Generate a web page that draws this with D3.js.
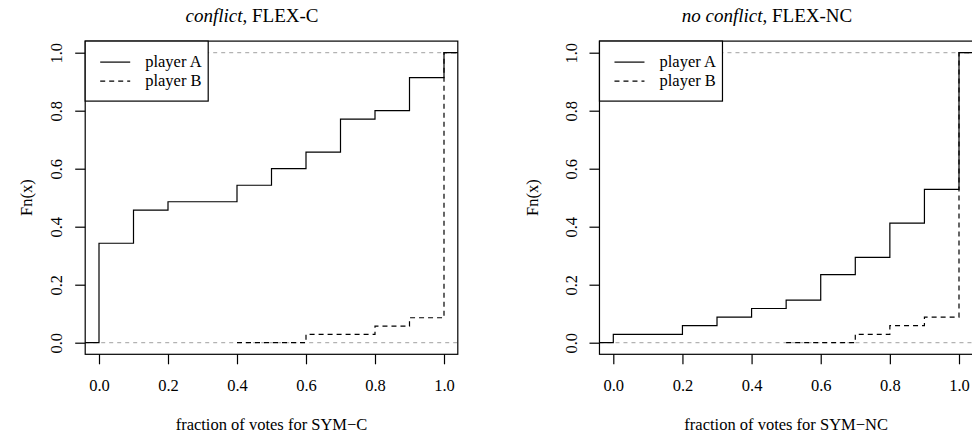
<!DOCTYPE html>
<html>
<head>
<meta charset="utf-8">
<script src="https://cdn.jsdelivr.net/npm/d3@7"></script>
<style>
  html, body { margin: 0; padding: 0; background: #fff; }
  svg { display: block; }
  text { font-family: "Liberation Serif", "DejaVu Serif", serif; fill: #000; }
</style>
</head>
<body>
<svg id="chart" width="972" height="436"></svg>
<script>
// ---- data ----
const titlesItalic = ["conflict", "no conflict"];
const titlesPlain = [", FLEX-C", ", FLEX-NC"];
const xLabels = ["fraction of votes for SYM\u2212C", "fraction of votes for SYM\u2212NC"];
const yLabel = "Fn(x)";
const seriesNames = ["player A", "player B"];
const tickValues = [0, 0.2, 0.4, 0.6, 0.8, 1.0];

// conflict panel
const leftAx = [0, 0.1, 0.2, 0.4, 0.5, 0.6, 0.7, 0.8, 0.9, 1.0];
const leftAy = [0.343, 0.457, 0.486, 0.543, 0.600, 0.657, 0.771, 0.800, 0.914, 1.000];
const leftBx = [0.6, 0.8, 0.9, 1.0];
const leftBy = [0.029, 0.057, 0.086, 1.000];
const leftBStart = 0.4;

// no conflict panel
const rightAx = [0, 0.2, 0.3, 0.4, 0.5, 0.6, 0.7, 0.8, 0.9, 1.0];
const rightAy = [0.029, 0.059, 0.088, 0.118, 0.147, 0.235, 0.294, 0.412, 0.529, 1.000];
const rightBx = [0.7, 0.8, 0.9, 1.0];
const rightBy = [0.029, 0.059, 0.088, 1.000];
const rightBStart = 0.5;

// ---- layout ----
const svg = d3.select("#chart");
const FS = 16.5;
const panels = [
  { x0: 99, x1: 444, titleX: 252, aX: leftAx, aY: leftAy, bX: leftBx, bY: leftBy, bStart: leftBStart,
    ylabX: 32, ytickX: 62 },
  { x0: 613.3, x1: 959, titleX: 767, aX: rightAx, aY: rightAy, bX: rightBx, bY: rightBy, bStart: rightBStart,
    ylabX: 538, ytickX: 577 }
];
const yScale = d3.scaleLinear().domain([0, 1]).range([342.7, 52.7]);
const domain = [-0.04, 1.04];

panels.forEach((p, i) => {
  const x = d3.scaleLinear().domain([0, 1]).range([p.x0, p.x1]);
  const y = yScale;
  const g = svg.append("g");
  const bl = x(domain[0]), br = x(domain[1]), bt = y(domain[1]), bb = y(domain[0]);

  // gray reference lines at 0 and 1
  [0, 1].forEach(v => {
    g.append("line").attr("x1", bl).attr("x2", br).attr("y1", y(v)).attr("y2", y(v))
      .attr("stroke", "#b3b3b3").attr("stroke-width", 1.2).attr("stroke-dasharray", "4,4");
  });

  const line = d3.line().x(d => x(d[0])).y(d => y(d[1])).curve(d3.curveStepAfter);

  // player B (dashed)
  const bPts = [[p.bStart, 0]].concat(p.bX.map((v, k) => [v, p.bY[k]]));
  bPts.push([domain[1], p.bY[p.bY.length - 1]]);
  g.append("path").attr("d", line(bPts)).attr("fill", "none").attr("stroke", "#000")
    .attr("stroke-width", 1.2).attr("stroke-dasharray", "5,4");

  // player A (solid)
  const aPts = [[domain[0], 0]].concat(p.aX.map((v, k) => [v, p.aY[k]]));
  aPts.push([domain[1], p.aY[p.aY.length - 1]]);
  g.append("path").attr("d", line(aPts)).attr("fill", "none").attr("stroke", "#000")
    .attr("stroke-width", 1.2);

  // box
  g.append("rect").attr("x", bl).attr("y", bt).attr("width", br - bl).attr("height", bb - bt)
    .attr("fill", "none").attr("stroke", "#000").attr("stroke-width", 1.2);

  // x axis
  const xa = g.append("g").attr("transform", `translate(0,${bb})`)
    .call(d3.axisBottom(x).tickValues(tickValues).tickFormat(d3.format(".1f")).tickSize(10).tickSizeOuter(0));
  xa.select(".domain").remove();
  xa.selectAll("line").attr("stroke", "#000").attr("stroke-width", 1.2);
  xa.selectAll("text").attr("font-size", FS).attr("font-family", "Liberation Serif")
    .attr("y", 37).attr("dy", null);

  // y axis
  const ya = g.append("g").attr("transform", `translate(${bl},0)`)
    .call(d3.axisLeft(y).tickValues(tickValues).tickFormat(d3.format(".1f")).tickSize(10).tickSizeOuter(0));
  ya.select(".domain").remove();
  ya.selectAll("line").attr("stroke", "#000").attr("stroke-width", 1.2);
  ya.selectAll("text").attr("font-size", FS).attr("font-family", "Liberation Serif")
    .attr("x", null).attr("dy", null)
    .attr("text-anchor", "middle")
    .attr("transform", `translate(${p.ytickX - bl},0) rotate(-90)`);

  // y label
  g.append("text").attr("transform", `translate(${p.ylabX},${(bt + bb) / 2}) rotate(-90)`)
    .attr("text-anchor", "middle").attr("font-size", FS).text(yLabel);

  // x label
  g.append("text").attr("x", (bl + br) / 2).attr("y", 430).attr("text-anchor", "middle")
    .attr("font-size", FS).text(xLabels[i]);

  // title
  const t = g.append("text").attr("x", p.titleX).attr("y", 22).attr("text-anchor", "middle")
    .attr("font-size", 19);
  t.append("tspan").attr("font-style", "italic").text(titlesItalic[i]);
  t.append("tspan").text(titlesPlain[i]);

  // legend
  const lg = g.append("g").attr("transform", `translate(${bl},${bt})`);
  lg.append("rect").attr("width", 123).attr("height", 60).attr("fill", "#fff")
    .attr("stroke", "#000").attr("stroke-width", 1.2);
  seriesNames.forEach((s, k) => {
    const ly = 21 + k * 19;
    lg.append("line").attr("x1", 15).attr("x2", 45).attr("y1", ly).attr("y2", ly)
      .attr("stroke", "#000").attr("stroke-width", 1.2)
      .attr("stroke-dasharray", k === 1 ? "5,4" : null);
    lg.append("text").attr("x", 60).attr("y", ly + 5).attr("font-size", FS).text(s);
  });
});
</script>
</body>
</html>
